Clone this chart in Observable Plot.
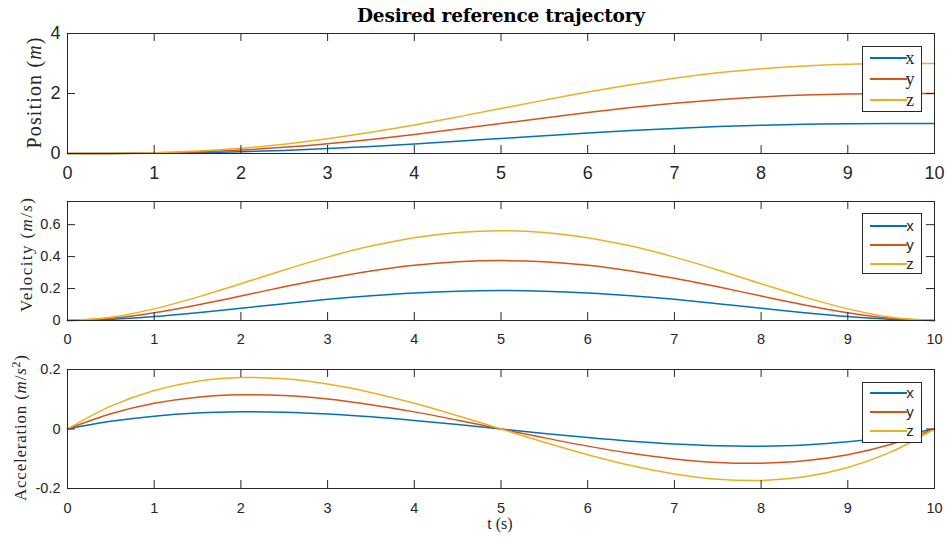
<!DOCTYPE html>
<html>
<head>
<meta charset="utf-8">
<script src="https://cdn.jsdelivr.net/npm/d3@7"></script>
<script src="https://cdn.jsdelivr.net/npm/@observablehq/plot@0.6"></script>
<style>
  html, body { margin: 0; padding: 0; background: #fff; }
  #fig { position: relative; width: 948px; height: 540px; overflow: hidden; background: #fff; }
  #fig svg { position: absolute; left: 0; overflow: visible; }
</style>
</head>
<body>
<div id="fig"></div>
<script>
// Sample times (s)
const t = [0, 0.5, 1, 1.5, 2, 2.5, 3, 3.5, 4, 4.5, 5, 5.5, 6, 6.5, 7, 7.5, 8, 8.5, 9, 9.5, 10];

// Position (m)
const posX = [0, 0.0012, 0.0086, 0.0266, 0.0579, 0.1035, 0.1631, 0.2352, 0.3174, 0.4069, 0.5, 0.5931, 0.6826, 0.7648, 0.8369, 0.8965, 0.9421, 0.9734, 0.9914, 0.9988, 1];
const posY = [0, 0.0023, 0.0171, 0.0532, 0.1158, 0.2070, 0.3262, 0.4703, 0.6349, 0.8138, 1, 1.1862, 1.3651, 1.5297, 1.6738, 1.7930, 1.8842, 1.9468, 1.9829, 1.9977, 2];
const posZ = [0, 0.0035, 0.0257, 0.0798, 0.1738, 0.3105, 0.4892, 0.7055, 0.9523, 1.2206, 1.5, 1.7794, 2.0477, 2.2945, 2.5108, 2.6895, 2.8262, 2.9202, 2.9743, 2.9965, 3];

// Velocity (m/s)
const velX = [0, 0.0068, 0.0243, 0.0488, 0.0768, 0.1055, 0.1323, 0.1553, 0.1728, 0.1838, 0.1875, 0.1838, 0.1728, 0.1553, 0.1323, 0.1055, 0.0768, 0.0488, 0.0243, 0.0068, 0];
const velY = [0, 0.0135, 0.0486, 0.0975, 0.1536, 0.2109, 0.2646, 0.3105, 0.3456, 0.3675, 0.375, 0.3675, 0.3456, 0.3105, 0.2646, 0.2109, 0.1536, 0.0975, 0.0486, 0.0135, 0];
const velZ = [0, 0.0203, 0.0729, 0.1463, 0.2304, 0.3164, 0.3969, 0.4658, 0.5184, 0.5513, 0.5625, 0.5513, 0.5184, 0.4658, 0.3969, 0.3164, 0.2304, 0.1463, 0.0729, 0.0203, 0];

// Acceleration (m/s^2)
const accX = [0, 0.0257, 0.0432, 0.0536, 0.0576, 0.0563, 0.0504, 0.0410, 0.0288, 0.0149, 0, -0.0149, -0.0288, -0.0410, -0.0504, -0.0563, -0.0576, -0.0536, -0.0432, -0.0257, 0];
const accY = [0, 0.0513, 0.0864, 0.1071, 0.1152, 0.1125, 0.1008, 0.0819, 0.0576, 0.0297, 0, -0.0297, -0.0576, -0.0819, -0.1008, -0.1125, -0.1152, -0.1071, -0.0864, -0.0513, 0];
const accZ = [0, 0.0770, 0.1296, 0.1607, 0.1728, 0.1688, 0.1512, 0.1229, 0.0864, 0.0446, 0, -0.0446, -0.0864, -0.1229, -0.1512, -0.1688, -0.1728, -0.1607, -0.1296, -0.0770, 0];

// Tick values
const timeTicks = [0, 1, 2, 3, 4, 5, 6, 7, 8, 9, 10];
const posTicks = [0, 2, 4];
const velTicks = [0, 0.2, 0.4, 0.6];
const accTicks = [-0.2, 0, 0.2];

const seriesNames = ["x", "y", "z"];
const seriesColors = ["#0072BD", "#D95319", "#EDB120"];

const INK = "#262626";
const SANS = "'Liberation Sans', Arial, Helvetica, sans-serif";
const SERIF = "'Liberation Serif', 'DejaVu Serif', 'Times New Roman', serif";
const W = 948, ML = 67, MR = 14;
const fig = document.getElementById("fig");

function panel(o) {
  const innerW = W - ML - MR;
  const innerH = o.height - o.marginTop - o.marginBottom;
  const rows = [];
  o.series.forEach((vals, k) => vals.forEach((v, i) => rows.push({t: t[i], v, s: seriesNames[k]})));
  const fmt = d => String(d);
  const chart = Plot.plot({
    width: W,
    height: o.height,
    marginLeft: ML,
    marginRight: MR,
    marginTop: o.marginTop,
    marginBottom: o.marginBottom,
    style: {fontFamily: SANS, fontSize: o.fontSize + "px", color: INK, background: "transparent", overflow: "visible"},
    x: {domain: [0, 10]},
    y: {domain: o.domain},
    color: {domain: seriesNames, range: seriesColors},
    marks: [
      Plot.line(rows, {x: "t", y: "v", z: "s", stroke: "s", strokeWidth: 1.5, curve: "catmull-rom"}),
      // inward tick marks on all four sides of the box
      Plot.tickX(timeTicks, {x: d => d, stroke: INK, insetTop: innerH - 8}),
      Plot.tickX(timeTicks, {x: d => d, stroke: INK, insetBottom: innerH - 8}),
      Plot.tickY(o.ticks, {y: d => d, stroke: INK, insetLeft: innerW - 8}),
      Plot.tickY(o.ticks, {y: d => d, stroke: INK, insetRight: innerW - 8}),
      Plot.axisX(timeTicks, {tickSize: 0, tickPadding: o.xPad, label: null, tickFormat: fmt, fontSize: o.fontSize}),
      Plot.axisY(o.ticks, {tickSize: 0, tickPadding: 7, label: null, tickFormat: fmt, fontSize: o.fontSize}),
      Plot.frame({stroke: INK, strokeWidth: 1})
    ]
  });
  chart.style.top = o.top + "px";
  fig.appendChild(chart);
  const svg = d3.select(chart);

  // y-axis label (rotated)
  const yl = svg.append("text")
    .attr("transform", `translate(${o.ylabelX},${o.ylabelY}) rotate(-90)`)
    .attr("text-anchor", "middle")
    .attr("dy", "0.35em")
    .attr("font-family", SERIF)
    .attr("font-size", o.ylabelSize)
    .attr("textLength", o.ylabelLength)
    .attr("lengthAdjust", "spacing")
    .attr("fill", INK);
  o.ylabel(yl);

  // legend box
  const lg = svg.append("g");
  lg.append("rect")
    .attr("x", 862.5).attr("y", o.legendTop + 0.5)
    .attr("width", 59).attr("height", o.legendH)
    .attr("fill", "#fff").attr("stroke", INK).attr("stroke-width", 1);
  seriesNames.forEach((name, k) => {
    const yy = o.legendTop + o.legendRows[k];
    lg.append("line")
      .attr("x1", 870).attr("x2", 907).attr("y1", yy).attr("y2", yy)
      .attr("stroke", seriesColors[k]).attr("stroke-width", 2);
    lg.append("text")
      .attr("x", 910).attr("y", yy).attr("dy", "0.32em")
      .attr("font-family", o.legendFont).attr("font-size", o.legendSize)
      .attr("fill", INK).text(name);
  });
  return svg;
}

// Position panel
const p1 = panel({
  top: 0, height: 185, marginTop: 33, marginBottom: 32, domain: [0, 4], ticks: posTicks,
  series: [posX, posY, posZ], fontSize: 18, xPad: 13,
  ylabelX: 34, ylabelY: 93, ylabelSize: 20, ylabelLength: 111,
  ylabel: s => { s.append("tspan").text("Position ("); s.append("tspan").attr("font-style", "italic").text("m"); s.append("tspan").text(")"); },
  legendTop: 46, legendH: 65, legendRows: [12, 33, 54], legendFont: SERIF, legendSize: 18
});
p1.append("text")
  .attr("x", 501).attr("y", 22)
  .attr("text-anchor", "middle")
  .attr("font-family", "'DejaVu Serif', 'Liberation Serif', serif").attr("font-weight", "bold").attr("font-size", 18.5)
  .attr("textLength", 288).attr("lengthAdjust", "spacing")
  .attr("fill", "#000")
  .text("Desired reference trajectory");

// Velocity panel
panel({
  top: 185, height: 165, marginTop: 16, marginBottom: 30, domain: [0, 0.745], ticks: velTicks,
  series: [velX, velY, velZ], fontSize: 14.5, xPad: 13,
  ylabelX: 26, ylabelY: 70, ylabelSize: 17, ylabelLength: 114,
  ylabel: s => { s.append("tspan").text("Velocity ("); s.append("tspan").attr("font-style", "italic").text("m"); s.append("tspan").text("/"); s.append("tspan").attr("font-style", "italic").text("s"); s.append("tspan").text(")"); },
  legendTop: 28, legendH: 60, legendRows: [13, 32, 51], legendFont: SANS, legendSize: 15
});

// Acceleration panel
const p3 = panel({
  top: 350, height: 190, marginTop: 19, marginBottom: 52, domain: [-0.2, 0.2], ticks: accTicks,
  series: [accX, accY, accZ], fontSize: 14.5, xPad: 14,
  ylabelX: 20, ylabelY: 78, ylabelSize: 17, ylabelLength: 146,
  ylabel: s => {
    s.append("tspan").text("Acceleration (");
    s.append("tspan").attr("font-style", "italic").text("m");
    s.append("tspan").text("/");
    s.append("tspan").attr("font-style", "italic").text("s");
    s.append("tspan").attr("font-size", 12).attr("dy", "-0.5em").text("2");
    s.append("tspan").attr("dy", "0.35em").text(")");
  },
  legendTop: 32, legendH: 60, legendRows: [11, 30, 49], legendFont: SANS, legendSize: 15
});
p3.append("text")
  .attr("x", 500).attr("y", 179)
  .attr("text-anchor", "middle")
  .attr("font-family", SERIF).attr("font-size", 16)
  .attr("fill", INK)
  .text("t (s)");
</script>
</body>
</html>
